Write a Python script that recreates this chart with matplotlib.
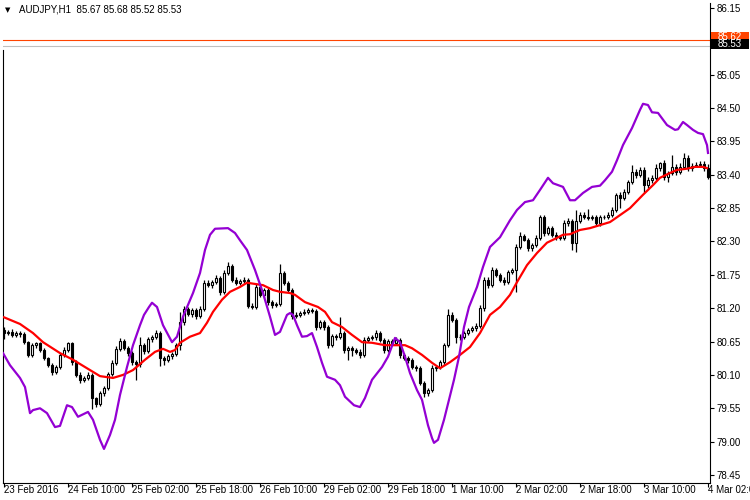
import numpy as np
import matplotlib
matplotlib.use('Agg')
import matplotlib.pyplot as plt
from matplotlib.patches import Rectangle

plt.rcParams['font.family'] = ['Liberation Sans', 'DejaVu Sans']

# header / current prices
title = 'AUDJPY,H1  85.67 85.68 85.52 85.53'
bid = 85.53
ask = 85.62

# hourly closes, 23 Feb 18:00 .. 4 Mar 02:00
closes = [80.79, 80.81, 80.76, 80.79, 80.77, 80.64, 80.43, 80.59, 80.62, 80.51,
          80.38, 80.26, 80.15, 80.23, 80.43, 80.51, 80.62, 80.31, 80.10, 80.02,
          80.05, 80.10, 79.72, 79.62, 79.80, 79.88, 80.12, 80.30, 80.53, 80.66,
          80.54, 80.46, 80.31, 80.28, 80.59, 80.49, 80.69, 80.72, 80.79, 80.38,
          80.35, 80.41, 80.45, 80.59, 80.97, 81.19, 81.10, 81.17, 81.07, 81.19,
          81.62, 81.58, 81.63, 81.70, 81.47, 81.78, 81.90, 81.67, 81.62, 81.65,
          81.67, 81.24, 81.22, 81.55, 81.42, 81.50, 81.30, 81.25, 81.27, 81.78,
          81.62, 81.50, 81.07, 81.09, 81.12, 81.14, 81.17, 81.15, 80.89, 80.97,
          80.89, 80.59, 80.74, 80.72, 80.79, 80.51, 80.54, 80.51, 80.48, 80.43,
          80.68, 80.71, 80.72, 80.79, 80.68, 80.51, 80.66, 80.63, 80.68, 80.43,
          80.38, 80.35, 80.23, 80.21, 79.97, 79.80, 79.85, 80.21, 80.23, 80.31,
          80.59, 81.09, 81.01, 80.73, 80.72, 80.79, 80.84, 80.87, 80.91, 81.20,
          81.67, 81.58, 81.83, 81.75, 81.67, 81.63, 81.80, 81.83, 82.21, 82.39,
          82.33, 82.19, 82.24, 82.36, 82.70, 82.44, 82.52, 82.41, 82.37, 82.36,
          82.60, 82.64, 82.28, 82.64, 82.74, 82.70, 82.69, 82.70, 82.60, 82.70,
          82.71, 82.74, 82.82, 83.07, 83.02, 83.12, 83.28, 83.45, 83.40, 83.48,
          83.23, 83.31, 83.35, 83.51, 83.59, 83.36, 83.43, 83.53, 83.45, 83.53,
          83.68, 83.51, 83.55, 83.56, 83.58, 83.51, 83.36]
first_open = 80.84

# shadow lengths above / below the body
wick_up = [0.05, 0.03, 0.04, 0.03, 0.04, 0.03, 0.02, 0.04, 0.03, 0.03,
           0.03, 0.02, 0.03, 0.04, 0.03, 0.05, 0.03, 0.02, 0.03, 0.04,
           0.03, 0.04, 0.03, 0.02, 0.03, 0.04, 0.03, 0.04, 0.05, 0.05,
           0.03, 0.04, 0.03, 0.04, 0.13, 0.04, 0.03, 0.04, 0.05, 0.03,
           0.04, 0.03, 0.03, 0.04, 0.16, 0.05, 0.03, 0.04, 0.03, 0.04,
           0.05, 0.04, 0.03, 0.05, 0.03, 0.05, 0.06, 0.03, 0.04, 0.03,
           0.04, 0.03, 0.04, 0.05, 0.04, 0.03, 0.04, 0.03, 0.03, 0.15,
           0.04, 0.03, 0.03, 0.04, 0.03, 0.05, 0.04, 0.04, 0.03, 0.04,
           0.03, 0.04, 0.03, 0.04, 0.27, 0.03, 0.04, 0.03, 0.03, 0.04,
           0.04, 0.03, 0.04, 0.05, 0.03, 0.03, 0.04, 0.03, 0.04, 0.03,
           0.03, 0.04, 0.03, 0.03, 0.04, 0.03, 0.04, 0.05, 0.03, 0.04,
           0.04, 0.10, 0.04, 0.03, 0.04, 0.03, 0.04, 0.03, 0.04, 0.05,
           0.05, 0.04, 0.05, 0.04, 0.03, 0.04, 0.03, 0.04, 0.05, 0.06,
           0.04, 0.03, 0.04, 0.05, 0.04, 0.03, 0.04, 0.03, 0.04, 0.03,
           0.05, 0.04, 0.03, 0.18, 0.05, 0.04, 0.13, 0.04, 0.03, 0.04,
           0.03, 0.04, 0.05, 0.03, 0.04, 0.05, 0.04, 0.11, 0.04, 0.05,
           0.04, 0.05, 0.04, 0.06, 0.02, 0.05, 0.04, 0.20, 0.05, 0.06,
           0.08, 0.05, 0.04, 0.05, 0.04, 0.05, 0.06]
wick_dn = [0.10, 0.03, 0.04, 0.03, 0.04, 0.03, 0.04, 0.03, 0.04, 0.03,
           0.04, 0.03, 0.05, 0.04, 0.03, 0.04, 0.03, 0.04, 0.03, 0.06,
           0.03, 0.04, 0.19, 0.05, 0.03, 0.04, 0.03, 0.04, 0.03, 0.04,
           0.03, 0.04, 0.05, 0.26, 0.05, 0.04, 0.03, 0.04, 0.03, 0.14,
           0.08, 0.03, 0.04, 0.03, 0.08, 0.04, 0.03, 0.05, 0.04, 0.03,
           0.04, 0.03, 0.04, 0.03, 0.05, 0.04, 0.03, 0.04, 0.03, 0.04,
           0.03, 0.04, 0.03, 0.04, 0.03, 0.05, 0.04, 0.05, 0.03, 0.04,
           0.03, 0.04, 0.05, 0.03, 0.04, 0.03, 0.04, 0.03, 0.05, 0.04,
           0.05, 0.04, 0.03, 0.04, 0.03, 0.05, 0.16, 0.10, 0.04, 0.05,
           0.03, 0.04, 0.03, 0.04, 0.03, 0.05, 0.04, 0.03, 0.04, 0.05,
           0.04, 0.05, 0.03, 0.04, 0.04, 0.07, 0.05, 0.03, 0.04, 0.03,
           0.04, 0.03, 0.04, 0.10, 0.04, 0.03, 0.04, 0.03, 0.04, 0.03,
           0.04, 0.05, 0.03, 0.04, 0.03, 0.04, 0.03, 0.04, 0.36, 0.04,
           0.03, 0.05, 0.04, 0.03, 0.04, 0.05, 0.03, 0.04, 0.05, 0.04,
           0.03, 0.04, 0.12, 0.15, 0.04, 0.03, 0.04, 0.03, 0.05, 0.04,
           0.03, 0.04, 0.03, 0.04, 0.17, 0.04, 0.03, 0.04, 0.05, 0.04,
           0.13, 0.04, 0.05, 0.03, 0.04, 0.05, 0.08, 0.04, 0.05, 0.04,
           0.04, 0.05, 0.04, 0.03, 0.04, 0.05, 0.03]

# red moving average (bar index, price)
ma_bar = [0, 4, 7.25, 9.75, 14, 17.25, 20.75, 24, 27.25, 29.75, 32.25, 35.25,
          37.75, 39.75, 41.5, 42.75, 44, 46.5, 49, 50.75, 52.25, 54.5, 56.5,
          59, 60.75, 62.75, 64.75, 67.25, 69, 71.5, 72.75, 75.25, 78.5, 80.25,
          82, 84.5, 87, 89.5, 92, 95.25, 98.5, 100.25, 102, 104.5, 107, 109,
          111.5, 114, 116.5, 119, 121.5, 124, 126.5, 128.25, 130.75, 133.25,
          135.75, 138.25, 139.75, 141.5, 144, 146.5, 149, 151.5, 153.25, 156.5,
          159.75, 162.25, 164, 166.5, 168.25, 170.75, 172.75, 174.75, 175.75]
ma_val = [81.05, 80.94, 80.79, 80.64, 80.46, 80.35, 80.21, 80.08, 80.05, 80.10,
          80.18, 80.35, 80.48, 80.53, 80.48, 80.51, 80.63, 80.73, 80.79, 80.96,
          81.14, 81.34, 81.47, 81.55, 81.62, 81.60, 81.58, 81.50, 81.47, 81.45,
          81.42, 81.30, 81.22, 81.14, 80.97, 80.89, 80.76, 80.64, 80.63, 80.59,
          80.59, 80.59, 80.54, 80.43, 80.30, 80.21, 80.31, 80.43, 80.56, 80.79,
          81.09, 81.22, 81.42, 81.63, 81.91, 82.11, 82.28, 82.36, 82.41, 82.42,
          82.49, 82.52, 82.57, 82.62, 82.70, 82.85, 83.07, 83.23, 83.35, 83.43,
          83.48, 83.50, 83.53, 83.53, 83.51]

# purple indicator line (bar index, price)
ind_bar = [-0.25, 1.5, 4, 5.25, 6.5, 7.25, 9, 10.75, 12.75, 14, 15.75, 17,
           18.5, 21, 22.25, 24, 25, 26.5, 27.75, 29, 30.75, 32.25, 34, 35,
           36.25, 37, 38.25, 39.75, 42, 43.25, 44.75, 47.25, 49, 50.25, 51.5,
           52.75, 56, 57.75, 59, 60.75, 62.75, 64.75, 66.5, 67.75, 69, 70.75,
           71.5, 72.25, 73.25, 74.5, 75.75, 77, 78.25, 79.5, 80.75, 82.75, 84,
           85.25, 87.5, 89, 90.25, 92, 94.5, 96, 97.75, 99, 100.25, 101.5,
           103.25, 104.5, 106, 107, 107.5, 108.5, 110, 111.25, 112.5, 113.75,
           115, 116.25, 118.25, 119.75, 121.5, 124, 126.5, 128.25, 130.25,
           132.25, 134, 136, 137.25, 139.75, 141.5, 142.75, 144.75, 147, 149,
           150.25, 152, 153.25, 154.75, 157, 159, 159.75, 161, 162, 163.5,
           165.75, 167.75, 168.5, 169.75, 170.75, 172.25, 173.5, 174.75,
           175.75, 176]
ind_val = [80.46, 80.26, 80.05, 79.90, 79.47, 79.52, 79.55, 79.47, 79.24, 79.26,
           79.60, 79.57, 79.41, 79.49, 79.36, 79.03, 78.88, 79.11, 79.36, 79.77,
           80.23, 80.59, 80.92, 81.09, 81.22, 81.29, 81.22, 80.92, 80.64, 80.73,
           81.06, 81.45, 81.78, 82.16, 82.41, 82.51, 82.52, 82.44, 82.32, 82.16,
           81.83, 81.45, 81.06, 80.76, 80.81, 81.09, 81.12, 81.09, 80.92, 80.73,
           80.74, 80.79, 80.56, 80.30, 80.07, 80.02, 79.93, 79.74, 79.60, 79.57,
           79.72, 80.02, 80.23, 80.40, 80.71, 80.64, 80.40, 80.13, 79.85, 79.69,
           79.27, 79.06, 78.98, 79.03, 79.36, 79.69, 80.02, 80.40, 80.89, 81.22,
           81.55, 81.88, 82.21, 82.37, 82.65, 82.82, 82.95, 82.98, 83.15, 83.35,
           83.26, 83.20, 82.98, 82.98, 83.10, 83.20, 83.22, 83.31, 83.45, 83.64,
           83.89, 84.17, 84.47, 84.57, 84.55, 84.43, 84.42, 84.22, 84.14, 84.15,
           84.27, 84.22, 84.14, 84.09, 84.07, 83.89, 83.76]

price_ticks = [86.15, 85.60, 85.05, 84.50, 83.95, 83.40, 82.85, 82.30, 81.75,
               81.20, 80.65, 80.10, 79.55, 79.00, 78.45]
time_labels = ['23 Feb 2016', '24 Feb 10:00', '25 Feb 02:00', '25 Feb 18:00',
               '26 Feb 10:00', '29 Feb 02:00', '29 Feb 18:00', '1 Mar 10:00',
               '2 Mar 02:00', '2 Mar 18:00', '3 Mar 10:00', '4 Mar 02:00']

W, H = 750, 500
fig = plt.figure(figsize=(7.5, 5), dpi=100)
ax = fig.add_axes([3 / W, 17 / H, 707 / W, 480 / H])

closes = np.array(closes)
opens = np.r_[first_open, closes[:-1]]
bars = np.arange(len(closes))
top = np.maximum(opens, closes)
bot = np.minimum(opens, closes)
highs = top + np.array(wick_up)
lows = bot - np.array(wick_dn)

ax.vlines(bars, lows, highs, color='black', lw=0.9, zorder=2)
for i in bars:
    h = max(top[i] - bot[i], 0.004)
    fc = 'white' if closes[i] >= opens[i] else 'black'
    ax.add_patch(Rectangle((i - 0.34, bot[i]), 0.68, h, facecolor=fc,
                           edgecolor='black', lw=0.8, zorder=3))

ax.plot(ma_bar, ma_val, color='#ff0000', lw=1.6, zorder=4)
ax.plot(ind_bar, ind_val, color='#9400d3', lw=1.6, zorder=4)

ax.axhline(ask, color='#ff4500', lw=0.8, zorder=1)
ax.axhline(bid, color='#c0c0c0', lw=0.8, zorder=1)

ax.set_xlim(-0.25, 176.5)
ax.set_ylim(78.318, 86.232)

ax.spines['top'].set_visible(False)
for s in ['left', 'right', 'bottom']:
    ax.spines[s].set_linewidth(0.8)
ax.spines['left'].set_bounds(78.318, 85.45)

# the 85.60 label sits under the price boxes, only its tick shows
ax.yaxis.tick_right()
ax.set_yticks(price_ticks)
ax.set_yticklabels(['' if abs(p - 85.60) < 0.01 else '%.2f' % p
                    for p in price_ticks])
ax.tick_params(axis='y', direction='out', length=3, width=0.8, pad=2,
               labelsize=7)

ax.set_xticks(np.arange(len(time_labels)) * 16)
ax.set_xticklabels(time_labels, ha='left')
ax.tick_params(axis='x', direction='out', length=3, width=0.8, pad=-1.5,
               labelsize=7)

# price labels on the right scale
def price_box(y_px, txt, fc):
    fig.patches.append(Rectangle((711 / W, 1 - (y_px + 5) / H), 38 / W, 10 / H,
                                 transform=fig.transFigure, facecolor=fc,
                                 edgecolor='none', zorder=10))
    fig.text(730 / W, 1 - y_px / H, txt, color='white', fontsize=7,
             ha='center', va='center', zorder=11)

price_box(37, '%.2f' % ask, '#ff4500')
price_box(44, '%.2f' % bid, 'black')

fig.text(5 / W, 1 - 10 / H, '\u25bc', fontsize=5, va='center',
         family='DejaVu Sans')
fig.text(19 / W, 1 - 10 / H, title, fontsize=7, va='center')

fig.savefig('out.png', dpi=100)
